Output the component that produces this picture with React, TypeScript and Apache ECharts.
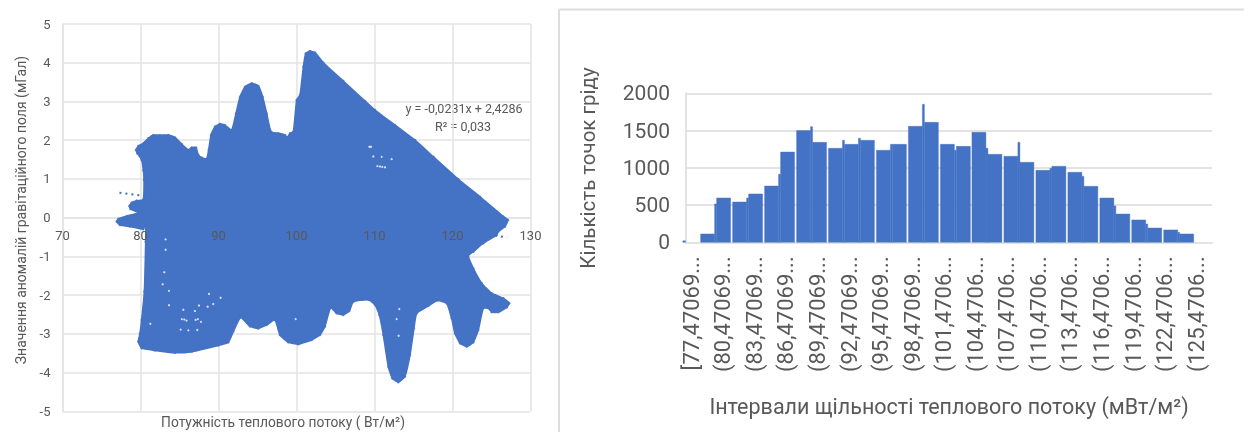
import React, { useEffect, useRef } from "react";
import * as echarts from "echarts";

const outlineX = [76.94,77.16,78.23,79.72,78.74,78.57,78.87,79.51,80.36,80.45,80.36,80.15,79.59,79.42,79.72,80.36,81.0,81.65,82.5,83.57,84.42,85.28,86.13,86.56,87.12,87.41,87.84,88.48,88.74,89.04,89.55,90.19,90.83,91.69,92.24,92.76,93.4,94.25,95.11,95.66,96.18,96.73,97.67,98.53,98.82,99.17,99.6,100.02,100.45,100.88,101.18,101.73,102.38,103.44,106.0,108.79,110.07,112.63,115.2,117.55,120.75,123.53,126.52,127.12,126.73,125.88,
  125.66,123.95,122.67,122.03,122.67,123.74,125.02,126.52,127.29,126.94,125.88,125.02,124.6,123.95,123.31,122.67,121.82,120.96,120.32,119.89,119.25,118.05,116.9,115.41,115.06,114.55,113.91,113.05,112.29,111.77,111.13,110.62,110.06,109.21,107.29,106.77,106.0,105.15,104.38,103.65,103.01,101.94,100.23,98.95,97.88,97.24,96.17,95.1,94.04,92.84,91.9,91.26,89.98,86.56,84.42,81.86,80.15,79.72,79.93,80.15,80.49,80.66,80.66,80.36,78.65,77.37];
const outlineY = [-0.10,-0.03,0.04,0.13,0.22,0.30,0.39,0.44,0.47,0.97,1.23,1.49,1.66,1.75,1.85,1.92,2.05,2.135,2.13,2.135,2.07,1.90,1.75,1.81,1.81,1.62,1.55,1.52,1.75,2.135,2.35,2.42,2.39,2.26,2.69,3.12,3.38,3.47,3.40,3.12,2.69,2.22,2.18,2.135,2.07,2.18,2.22,3.04,3.17,3.90,4.24,4.30,4.26,4.0,3.53,3.01,2.78,2.39,2.0,1.57,0.99,0.54,0.03,-0.06,-0.23,-0.36,
  -0.45,-0.66,-0.88,-0.98,-1.31,-1.69,-1.95,-2.08,-2.21,-2.32,-2.44,-2.44,-2.34,-2.34,-2.90,-3.22,-3.33,-3.24,-2.99,-2.60,-2.21,-2.14,-2.28,-2.47,-2.86,-3.55,-4.10,-4.25,-4.15,-3.85,-3.03,-2.51,-2.25,-2.12,-2.17,-2.41,-2.51,-2.47,-2.32,-2.81,-3.03,-3.16,-3.27,-3.22,-3.03,-2.64,-2.77,-2.86,-2.81,-2.58,-2.94,-3.22,-3.30,-3.46,-3.49,-3.43,-3.37,-3.2,-2.99,-2.64,-1.91,-0.62,-0.19,-0.30,-0.23,-0.19];
const holeX = [109.55,109.35,109.85,110.92,112.2,110.37,110.7,111.0,111.35,83.22,83.22,83.05,82.84,83.65,83.65,85.49,85.62,85.3,85.9,87.07,87.35,87.75,86.98,88.61,89.33,90.27,88.78,85.15,86.13,87.28,99.89,113.18,112.84,113.1,81.26,87.5];
const holeY = [1.83,1.83,1.58,1.57,1.51,1.33,1.32,1.31,1.30,-0.56,-0.83,-1.41,-1.72,-1.89,-2.26,-2.38,-2.63,-2.62,-2.66,-2.64,-2.62,-2.69,-2.41,-2.3,-2.23,-2.07,-1.97,-2.89,-2.91,-2.9,-2.62,-2.36,-2.62,-3.05,-2.74,-2.27];
const trendPoints = [[77.3, 0.64], [127, -0.505]];

const binFrom = [76.7,78.39,79.72,79.91,81.43,82.76,82.95,84.47,85.8,85.99,87.51,88.84,89.03,90.54,91.87,92.06,93.39,93.58,95.1,96.43,96.62,98.14,99.47,99.66,101.18,102.51,102.7,104.18,105.51,105.7,107.22,108.55,108.74,110.26,111.59,111.78,113.3,114.63,114.82,116.34,117.67,117.86,119.37,120.7,120.89,122.41,123.74,123.93];
const binTo = [76.95,79.72,79.91,81.24,82.76,82.95,84.28,85.8,85.99,87.32,88.84,89.03,90.36,91.87,92.06,93.39,93.58,94.91,96.43,96.62,97.95,99.47,99.66,100.99,102.51,102.7,104.03,105.51,105.7,107.03,108.55,108.74,110.07,111.59,111.78,113.11,114.63,114.82,116.15,117.67,117.86,119.19,120.7,120.89,122.22,123.74,123.93,125.26];
const binCount = [20,112,515,595,541,595,649,756,913,1212,1499,1552,1342,1262,1369,1315,1396,1369,1235,1315,1315,1557,1852,1610,1315,1235,1288,1476,1262,1181,1154,1342,1074,966,993,1020,940,886,752,595,488,380,300,246,192,166,134,112];
const histTickLabels = ["[77,47069...","(80,47069...","(83,47069...","(86,47069...","(89,47069...","(92,47069...","(95,47069...","(98,47069...","(101,4706...","(104,4706...","(107,4706...","(110,4706...","(113,4706...","(116,4706...","(119,4706...","(122,4706...","(125,4706..."];

const BLUE = "#4472C4";
const GREY = "#595959";
const GRID = "#E3E3E3";
const FONT = "Roboto";

const txt = (text: string, x: number, y: number, fontSize: number, rotation = 0) => ({
  type: "text", x, y, rotation, silent: true,
  style: { text, fill: GREY, fontSize, fontFamily: FONT, align: "center", verticalAlign: "middle" },
});
const line = (x1: number, y1: number, x2: number, y2: number) => ({
  type: "line", silent: true, shape: { x1, y1, x2, y2 }, style: { stroke: "#DEDEDE", lineWidth: 2 },
});

export default function App() {
  const ref = useRef<HTMLDivElement>(null);
  useEffect(() => {
    document.body.style.margin = "0";
    document.body.style.background = "#fff";
    const chart = echarts.init(ref.current!, null, { renderer: "svg" });
    const outline = outlineX.map((x, i) => [x, outlineY[i]]);
    const holes = holeX.map((x, i) => [x, holeY[i]]);
    const bins = binFrom.map((f, i) => [f, binTo[i], binCount[i]]);
    chart.setOption({
      animation: false,
      backgroundColor: "#fff",
      grid: [
        { left: 62.5, top: 24, width: 468, height: 387.3 },
        { left: 686, top: 93.3, width: 526, height: 149 },
      ],
      xAxis: [
        {
          type: "value", gridIndex: 0, min: 70, max: 130, interval: 10,
          axisLine: { show: true, onZero: true, lineStyle: { color: GRID, width: 1.5 } },
          axisTick: { show: false }, axisLabel: { show: false },
          splitLine: { show: true, lineStyle: { color: GRID, width: 1.5 } },
        },
        {
          type: "value", gridIndex: 0, min: 70, max: 130, interval: 10, z: 6,
          position: "bottom", offset: -193.65,
          axisLine: { show: false, onZero: false }, axisTick: { show: false }, splitLine: { show: false },
          axisLabel: { show: true, color: GREY, fontSize: 13, fontFamily: FONT, margin: 11, hideOverlap: false },
        },
        {
          type: "value", gridIndex: 1, min: 77, max: 127, show: false,
          splitLine: { show: false },
        },
        {
          type: "category", gridIndex: 1, position: "bottom",
          data: histTickLabels.flatMap((l) => [l, "", ""]).slice(0, 50),
          axisLine: { show: true, lineStyle: { color: GRID, width: 2 } },
          axisTick: { show: false },
          axisLabel: { interval: 2, rotate: 90, color: GREY, fontSize: 22, fontFamily: FONT, margin: 14 },
          splitLine: { show: false },
        },
      ],
      yAxis: [
        {
          type: "value", gridIndex: 0, min: -5, max: 5, interval: 1,
          axisLine: { show: true, onZero: false, lineStyle: { color: GRID, width: 1.5 } },
          axisTick: { show: false },
          axisLabel: { color: GREY, fontSize: 13, fontFamily: FONT, margin: 12 },
          splitLine: { show: true, lineStyle: { color: GRID, width: 1.5 } },
        },
        {
          type: "value", gridIndex: 1, min: 0, max: 2000, interval: 500,
          axisLine: { show: true, onZero: false, lineStyle: { color: GRID, width: 2 } },
          axisTick: { show: false },
          axisLabel: { color: GREY, fontSize: 21, fontFamily: FONT, margin: 16, formatter: (v: number) => String(v) },
          splitLine: { show: true, lineStyle: { color: GRID, width: 2 } },
        },
      ],
      series: [
        {
          type: "custom", xAxisIndex: 0, yAxisIndex: 0, z: 3, clip: false, silent: true,
          data: outline, encode: { x: 0, y: 1 },
          renderItem: (params: any, api: any) => {
            if (params.dataIndex !== 0) return null;
            return {
              type: "polygon",
              shape: { points: outline.map((p) => api.coord(p)), smooth: 0.15 },
              style: { fill: BLUE, stroke: BLUE, lineWidth: 1.5, lineJoin: "round" },
            };
          },
        },
        {
          type: "scatter", xAxisIndex: 0, yAxisIndex: 0, z: 3, silent: true,
          data: outline, symbolSize: 2.5, itemStyle: { color: BLUE },
        },
        {
          type: "line", xAxisIndex: 0, yAxisIndex: 0, z: 3, silent: true, showSymbol: false, symbol: "none",
          data: trendPoints, lineStyle: { color: BLUE, width: 2, type: [2, 4] },
        },
        {
          type: "scatter", xAxisIndex: 0, yAxisIndex: 0, z: 4, silent: true,
          data: holes, symbolSize: 2.2, itemStyle: { color: "#fff" },
        },
        {
          type: "custom", xAxisIndex: 2, yAxisIndex: 1, z: 3, clip: false, silent: true,
          data: bins, encode: { x: [0, 1], y: 2 },
          renderItem: (_: any, api: any) => {
            const a = api.coord([api.value(0), api.value(2)]);
            const b = api.coord([api.value(1), 0]);
            return {
              type: "rect",
              shape: { x: a[0], y: a[1], width: b[0] - a[0], height: b[1] - a[1] },
              style: { fill: BLUE, stroke: BLUE, lineWidth: 0.4 },
            };
          },
        },
      ],
      graphic: [
        line(559, 9.5, 1244, 9.5),
        line(559, 9.5, 559, 432),
        txt("Потужність теплового потоку ( Вт/м²)", 283, 422, 13.8),
        txt("Значення аномалій гравітаційного поля (мГал)", 21, 210, 14, Math.PI / 2),
        txt("y = -0,0231x + 2,4286", 464, 108, 12.5),
        txt("R² = 0,033", 463, 126, 12.5),
        txt("Кількість точок гріду", 588, 168, 20.5, Math.PI / 2),
        txt("Інтервали щільності теплового потоку (мВт/м²)", 949, 406, 21.5),
      ],
    });
    return () => chart.dispose();
  }, []);
  return <div ref={ref} style={{ position: "fixed", left: 0, top: 0, width: 1244, height: 432, filter: "blur(0.4px)" }} />;
}
